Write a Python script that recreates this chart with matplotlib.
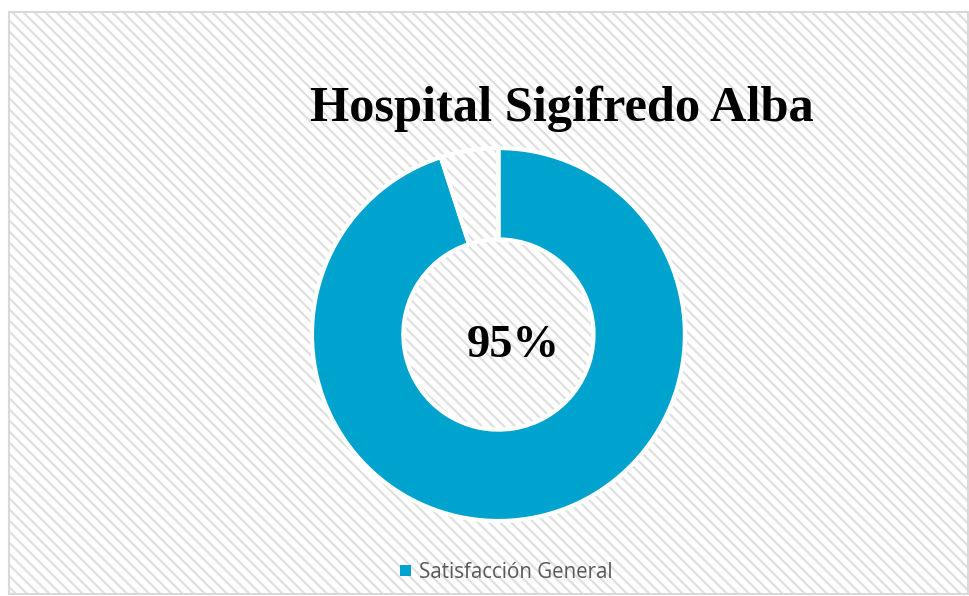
import matplotlib
matplotlib.use("Agg")
import matplotlib.pyplot as plt
from matplotlib.patches import Rectangle, Patch

# data
labels = ["Satisfacción General", ""]
values = [95, 5]
title = "Hospital Sigifredo Alba"
center_label = "95%"

blue = "#00A3CE"
grid_gray = "#D9D9D9"

plt.rcParams["hatch.linewidth"] = 1.6

fig = plt.figure(figsize=(9.7, 5.96), dpi=100)
fig.patch.set_facecolor("white")

# hatched chart area + border
bg = Rectangle((9 / 970, 2 / 596), 959 / 970, 582 / 596, transform=fig.transFigure,
               facecolor="white", edgecolor="#E0E0E0", hatch="\\\\\\", linewidth=0, zorder=-5)
fig.patches.append(bg)
border = Rectangle((9 / 970, 2 / 596), 959 / 970, 582 / 596, transform=fig.transFigure,
                   facecolor="none", edgecolor=grid_gray, linewidth=1.5, zorder=-4)
fig.patches.append(border)

ax = fig.add_axes([0.3216, 0.1258, 0.3845, 0.6258])
ax.set_facecolor("none")
wedges, _ = ax.pie(values, colors=[blue, "none"], startangle=90, counterclock=False,
                   radius=1.0, wedgeprops=dict(width=0.49, edgecolor="white", linewidth=3))
ax.set_xlim(-1.0, 1.0)
ax.set_ylim(-1.0, 1.0)
ax.axis("off")

ax.text(0.08, -0.06, center_label, ha="center", va="center", fontsize=33.5,
        fontweight="bold", family="Liberation Serif", color="black")

fig.text(0.579, 0.818, title, ha="center", va="center", fontsize=36.4,
         fontweight="bold", family="Liberation Serif", color="black")

fig.legend([Patch(facecolor=blue)], [labels[0]], loc="center",
           bbox_to_anchor=(0.522, 0.04), frameon=False, handlelength=0.5,
           handleheight=0.5, handletextpad=0.4,
           prop=dict(family="Open Sans", size=14.8), labelcolor="#595959")

fig.savefig("out.png", dpi=100)
